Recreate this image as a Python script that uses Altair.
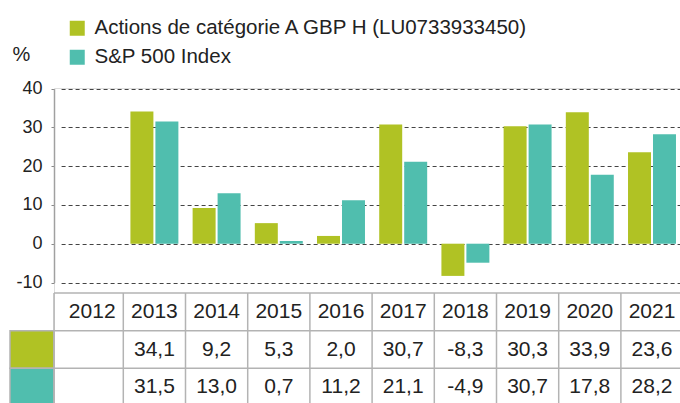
import altair as alt
import pandas as pd

# ---- data ----
years = ["2012", "2013", "2014", "2015", "2016", "2017", "2018", "2019", "2020", "2021"]
series_names = ["Actions de catégorie A GBP H (LU0733933450)", "S&P 500 Index"]
fund_values = [None, 34.1, 9.2, 5.3, 2.0, 30.7, -8.3, 30.3, 33.9, 23.6]
index_values = [None, 31.5, 13.0, 0.7, 11.2, 21.1, -4.9, 30.7, 17.8, 28.2]
y_ticks = [-10, 0, 10, 20, 30, 40]
series_colors = ["#b0c224", "#50beae"]

# ---- layout (pixels) ----
W, H = 626, 315
PAD_L, PAD_T = 54, 88
X_RANGE = [7.1, 629.1]
Y_RANGE = [194.5, 0.5]
TABLE_TOP, TABLE_BOTTOM = 205, 318
SWATCH_LEFT = -44
FONT = "Liberation Sans"
GRID_LINE = "#b3b3b3"

rows = ["header"] + series_names

recs = []
for name, vals in zip(series_names, [fund_values, index_values]):
    for y, v in zip(years, vals):
        recs.append({"year": y, "series": name, "value": v,
                     "row": name,
                     "label": "" if v is None else f"{v:.1f}".replace(".", ",")})
df = pd.DataFrame(recs)
df_bars = df.dropna(subset=["value"])
df_header = pd.DataFrame({"year": years, "row": "header", "label": years})
df_rows = pd.DataFrame({"row": rows})
df_swatch = pd.DataFrame({"row": series_names, "series": series_names})
df_vlines = pd.DataFrame({"year": years[1:]})

x_scale = alt.Scale(domain=years, range=X_RANGE, paddingInner=0, paddingOuter=0)
row_scale = alt.Scale(type="band", domain=rows, range=[TABLE_TOP, TABLE_BOTTOM],
                      paddingInner=0, paddingOuter=0)
color_scale = alt.Scale(domain=series_names, range=series_colors)

legend = alt.Legend(orient="none", legendX=13, legendY=-70, title=None,
                    symbolType="square", symbolSize=225, symbolStrokeWidth=0,
                    labelFontSize=20.5, labelFont=FONT, labelColor="#222222",
                    labelOffset=7, rowPadding=8, labelLimit=600)

bars = alt.Chart(df_bars).mark_bar().encode(
    x=alt.X("year:N", scale=x_scale, axis=None),
    xOffset=alt.XOffset("series:N", scale=alt.Scale(domain=series_names, paddingInner=0.08, paddingOuter=0.285)),
    y=alt.Y("value:Q", scale=alt.Scale(domain=[-10, 40], range=Y_RANGE, nice=False, zero=False),
            axis=alt.Axis(values=y_ticks, title="%", titleAngle=0, titleX=-33, titleY=-34,
                          titleAlign="center", titleBaseline="middle", titleFontSize=20,
                          titleFontWeight="normal", titleFont=FONT, titleColor="#222222",
                          labelExpr="'' + datum.value",
                          labelFontSize=18, labelFont=FONT, labelColor="#222222",
                          labelPadding=9, tickSize=3, tickColor="#888888",
                          grid=True, gridDash=[4, 3], gridColor="#444444", gridWidth=1,
                          domainColor="#a0a0a0", domainWidth=1.5)),
    color=alt.Color("series:N", scale=color_scale, legend=legend),
)

swatch = alt.Chart(df_swatch).mark_rect(stroke=GRID_LINE, strokeWidth=1.5).encode(
    x=alt.value(SWATCH_LEFT), x2=alt.value(0),
    y=alt.Y("row:N", scale=row_scale, axis=None),
    color=alt.Color("series:N", scale=color_scale, legend=legend),
)

hlines = alt.Chart(df_rows).mark_rule(color=GRID_LINE, strokeWidth=1.5).encode(
    x=alt.value(0), x2=alt.value(W),
    y=alt.Y("row:N", scale=row_scale, axis=None, bandPosition=0),
)

vlines = alt.Chart(df_vlines).mark_rule(color=GRID_LINE, strokeWidth=1.5).encode(
    x=alt.X("year:N", scale=x_scale, axis=None, bandPosition=0),
    y=alt.value(TABLE_TOP), y2=alt.value(H),
)

left_border = alt.Chart(df_rows.head(1)).mark_rule(color=GRID_LINE, strokeWidth=1.5).encode(
    x=alt.value(0), y=alt.value(TABLE_TOP), y2=alt.value(H),
)

header_text = alt.Chart(df_header).mark_text(font=FONT, fontSize=21, color="#222222").encode(
    x=alt.X("year:N", scale=x_scale, axis=None),
    y=alt.Y("row:N", scale=row_scale, axis=None),
    text="label:N",
)

value_text = alt.Chart(df).mark_text(font=FONT, fontSize=21, color="#222222").encode(
    x=alt.X("year:N", scale=x_scale, axis=None),
    y=alt.Y("row:N", scale=row_scale, axis=None),
    text="label:N",
)

chart = alt.layer(bars, swatch, hlines, vlines, left_border, header_text, value_text).resolve_scale(
    y="independent"
).properties(
    width=W, height=H,
    autosize=alt.AutoSizeParams(type="none"),
    padding={"left": PAD_L, "top": PAD_T, "right": 0, "bottom": 0},
).configure_view(stroke=None).configure(background="white")

chart.save("out.html", embed_options={"renderer": "svg", "actions": False})
